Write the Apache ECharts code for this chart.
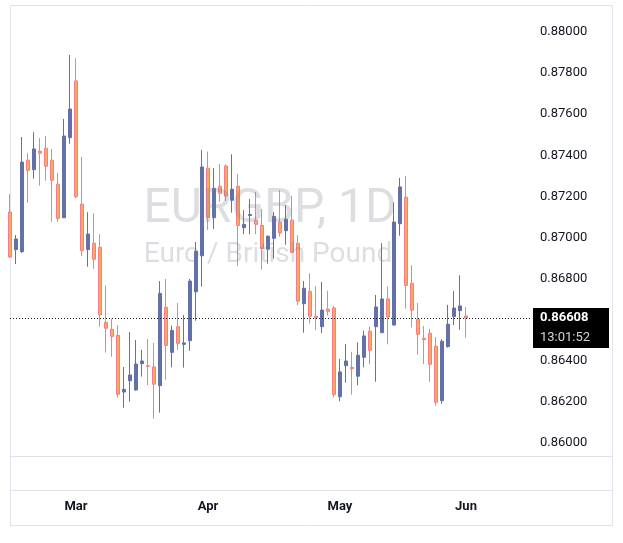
<!DOCTYPE html>
<html>
<head>
<meta charset="utf-8">
<script src="https://cdn.jsdelivr.net/npm/echarts@6/dist/echarts.min.js"></script>
<style>
html, body { margin: 0; padding: 0; background: #fff; }
#main { width: 623px; height: 543px; }
</style>
</head>
<body>
<div id="main"></div>
<script>
// EURGBP 日线, 2026-02-13 .. 2026-06-01
var dates = [
  '2026-02-13','2026-02-16','2026-02-17','2026-02-18','2026-02-19','2026-02-20','2026-02-23','2026-02-24','2026-02-25','2026-02-26','2026-02-27',
  '2026-03-02','2026-03-03','2026-03-04','2026-03-05','2026-03-06','2026-03-09','2026-03-10','2026-03-11','2026-03-12','2026-03-13',
  '2026-03-16','2026-03-17','2026-03-18','2026-03-19','2026-03-20','2026-03-23','2026-03-24','2026-03-25','2026-03-26','2026-03-27','2026-03-30','2026-03-31',
  '2026-04-01','2026-04-02','2026-04-03','2026-04-06','2026-04-07','2026-04-08','2026-04-09','2026-04-10','2026-04-13','2026-04-14','2026-04-15',
  '2026-04-16','2026-04-17','2026-04-20','2026-04-21','2026-04-22','2026-04-23','2026-04-24','2026-04-27','2026-04-28','2026-04-29','2026-04-30',
  '2026-05-01','2026-05-04','2026-05-05','2026-05-06','2026-05-07','2026-05-08','2026-05-11','2026-05-12','2026-05-13','2026-05-14','2026-05-15',
  '2026-05-18','2026-05-19','2026-05-20','2026-05-21','2026-05-22','2026-05-25','2026-05-26','2026-05-27','2026-05-28','2026-05-29',
  '2026-06-01'
];
var opens = [
  0.87124,0.86941,0.86931,0.87376,0.87330,0.87420,0.87434,0.87376,0.87259,0.87096,0.87486,
  0.87762,0.87162,0.86941,0.86972,0.86952,0.86587,0.86553,0.86524,0.86248,0.86303,
  0.86258,0.86386,0.86376,0.86370,0.86279,0.86660,0.86441,0.86566,0.86480,0.86498,0.86736,0.86911,
  0.87337,0.87096,0.87249,0.87348,0.87181,0.87249,0.87048,0.87107,0.87084,0.87059,0.86943,
  0.86996,0.87074,0.87033,0.87084,0.86972,0.86678,0.86738,0.86617,0.86566,0.86652,0.86657,
  0.86225,0.86376,0.86368,0.86325,0.86417,0.86544,0.86566,0.86537,0.86701,0.86574,0.87067,
  0.87196,0.86777,0.86602,0.86510,0.86534,0.86471,0.86206,0.86469,0.86615,0.86644,
  0.86618
];
var closes = [
  0.86905,0.86993,0.87367,0.87327,0.87431,0.87410,0.87347,0.87278,0.87093,0.87494,0.87625,
  0.87199,0.86936,0.87017,0.86894,0.86624,0.86558,0.86519,0.86237,0.86261,0.86331,
  0.86384,0.86399,0.86373,0.86286,0.86728,0.86475,0.86548,0.86485,0.86487,0.86788,0.86933,0.87343,
  0.87098,0.87239,0.87215,0.87202,0.87235,0.87059,0.87064,0.87112,0.87064,0.86947,0.87006,
  0.87103,0.87022,0.87089,0.86928,0.86690,0.86753,0.86617,0.86609,0.86647,0.86641,0.86235,
  0.86346,0.86399,0.86362,0.86427,0.86521,0.86451,0.86662,0.86701,0.86613,0.87075,0.87246,
  0.86767,0.86646,0.86529,0.86503,0.86383,0.86198,0.86495,0.86578,0.86657,0.86667,
  0.86608
];
var highs = [
  0.87212,0.87012,0.87489,0.87411,0.87512,0.87484,0.87494,0.87431,0.87314,0.87577,0.87888,
  0.87872,0.87392,0.87123,0.87118,0.87016,0.86767,0.86605,0.86574,0.86370,0.86540,
  0.86501,0.86453,0.86506,0.86487,0.86788,0.86798,0.86571,0.86681,0.86623,0.86798,0.86978,0.87426,
  0.87418,0.87338,0.87358,0.87356,0.87405,0.87308,0.87134,0.87187,0.87221,0.87139,0.87011,
  0.87124,0.87230,0.87157,0.87202,0.87011,0.86788,0.86826,0.86763,0.86784,0.86741,0.86667,
  0.86409,0.86482,0.86444,0.86490,0.86547,0.86566,0.86720,0.86972,0.86761,0.87171,0.87290,
  0.87299,0.86865,0.86681,0.86569,0.86555,0.86516,0.86505,0.86672,0.86740,0.86816,
  0.86662
];
var lows = [
  0.86900,0.86871,0.86925,0.87169,0.87286,0.87252,0.87276,0.87077,0.87077,0.87095,0.87456,
  0.87191,0.86910,0.86858,0.86847,0.86566,0.86440,0.86420,0.86221,0.86172,0.86201,
  0.86255,0.86323,0.86282,0.86118,0.86148,0.86308,0.86368,0.86454,0.86367,0.86449,0.86595,0.86761,
  0.87037,0.87041,0.87173,0.87178,0.87121,0.86863,0.87016,0.87016,0.87016,0.86845,0.86873,
  0.86897,0.87004,0.86965,0.86925,0.86670,0.86537,0.86581,0.86550,0.86535,0.86620,0.86222,
  0.86203,0.86293,0.86235,0.86281,0.86368,0.86383,0.86298,0.86534,0.86480,0.86571,0.87009,
  0.86654,0.86563,0.86430,0.86384,0.86298,0.86182,0.86191,0.86464,0.86574,0.86551,
  0.86512
];
var monthNames = ['Jan','Feb','Mar','Apr','May','Jun','Jul','Aug','Sep','Oct','Nov','Dec'];
var lastPrice = 0.86608;
var countdown = '13:01:52';
var symbolText = 'EURGBP, 1D';
var descText = 'Euro / British Pound';

var upColor = '#6371aa';
var downFill = '#fdaa5e';
var downBorder = '#f77b88';
var textColor = '#131722';
var frameColor = '#e0e3eb';
var font = 'Roboto, "Noto Sans", sans-serif';

var ohlc = dates.map(function (d, i) {
  return [opens[i], closes[i], lows[i], highs[i]];
});

// 每月第一根K线显示月份
function isMonthStart(i) {
  if (i <= 0 || i >= dates.length) return false;
  return dates[i].slice(5, 7) !== dates[i - 1].slice(5, 7);
}

var myChart = echarts.init(document.getElementById('main'), null, { renderer: 'canvas' });

myChart.setOption({
  animation: false,
  backgroundColor: '#fff',
  grid: { left: 10, right: 91, top: 32, bottom: 100 },
  xAxis: {
    type: 'category',
    data: dates,
    boundaryGap: false,
    max: 87,
    axisLine: { show: false },
    axisTick: { show: false },
    splitLine: { show: false },
    axisLabel: {
      interval: function (i) { return isMonthStart(i); },
      formatter: function (v) { return v ? monthNames[parseInt(v.slice(5, 7), 10) - 1] : ''; },
      margin: 57,
      color: textColor,
      fontFamily: font,
      fontSize: 13,
      fontWeight: 'bold'
    }
  },
  yAxis: {
    type: 'value',
    position: 'right',
    min: 0.86,
    max: 0.88,
    interval: 0.002,
    axisLine: { show: false },
    axisTick: { show: false },
    splitLine: { show: false },
    axisLabel: {
      margin: 8,
      color: textColor,
      fontFamily: font,
      fontSize: 13,
      formatter: function (v) {
        // 当前价标签盖住了 0.86600
        if (Math.abs(v - 0.866) < 1e-7) return '';
        return v.toFixed(5);
      }
    }
  },
  series: [{
    type: 'candlestick',
    data: ohlc,
    barWidth: 4,
    clip: true,
    itemStyle: {
      color: upColor,
      color0: downFill,
      borderColor: upColor,
      borderColor0: downBorder,
      borderWidth: 1
    },
    markLine: {
      silent: true,
      precision: 5,
      symbol: ['none', 'none'],
      label: { show: false },
      lineStyle: { color: textColor, type: [1, 2], width: 1 },
      data: [{ yAxis: lastPrice }]
    }
  }]
});

var yLast = myChart.convertToPixel({ yAxisIndex: 0 }, lastPrice);

myChart.setOption({
  graphic: [
    // 外框和分隔线
    { type: 'rect', z: 1, shape: { x: 10.5, y: 5.5, width: 602, height: 520 }, style: { fill: null, stroke: frameColor, lineWidth: 1 } },
    { type: 'line', z: 1, shape: { x1: 10, y1: 456.5, x2: 612, y2: 456.5 }, style: { stroke: frameColor, lineWidth: 1 } },
    { type: 'line', z: 1, shape: { x1: 10, y1: 490.5, x2: 612, y2: 490.5 }, style: { stroke: frameColor, lineWidth: 1 } },
    // 水印
    {
      type: 'text', z: 100, silent: true,
      style: {
        text: symbolText, x: 270, y: 210,
        textAlign: 'center', textVerticalAlign: 'middle', align: 'center', verticalAlign: 'middle',
        font: '48px ' + font, fill: 'rgba(120,123,134,0.25)'
      }
    },
    {
      type: 'text', z: 100, silent: true,
      style: {
        text: descText, x: 268, y: 255,
        textAlign: 'center', textVerticalAlign: 'middle', align: 'center', verticalAlign: 'middle',
        font: '28px ' + font, fill: 'rgba(120,123,134,0.25)'
      }
    },
    // 当前价标签
    { type: 'rect', z: 110, shape: { x: 533, y: yLast - 10, width: 76, height: 40 }, style: { fill: '#000' } },
    {
      type: 'text', z: 111,
      style: {
        text: lastPrice.toFixed(5), x: 540, y: yLast,
        textVerticalAlign: 'middle', verticalAlign: 'middle',
        font: 'bold 13px ' + font, fill: '#fff'
      }
    },
    {
      type: 'text', z: 111,
      style: {
        text: countdown, x: 540, y: yLast + 20,
        textVerticalAlign: 'middle', verticalAlign: 'middle',
        font: '13px ' + font, fill: '#d1d4dc'
      }
    }
  ]
});
</script>
</body>
</html>
